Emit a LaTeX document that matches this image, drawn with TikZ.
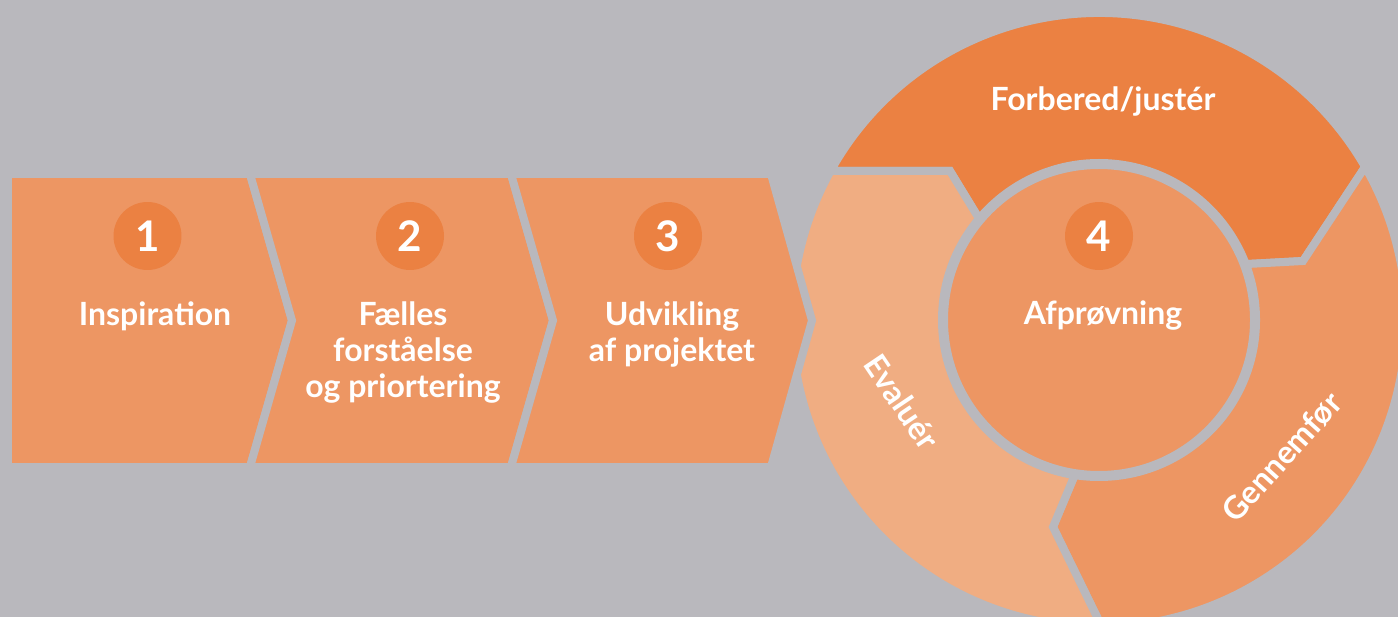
\documentclass[tikz,border=0pt]{standalone}
\usepackage{fontspec}
\setmainfont{Lato}

\definecolor{baggrund}{RGB}{185,184,189}
\definecolor{mellem}{RGB}{237,150,99}
\definecolor{moerk}{RGB}{235,129,66}
\definecolor{lys}{RGB}{240,173,130}

\begin{document}
\begin{tikzpicture}[x=0.02cm, y=0.02cm,
		kant/.style={draw=baggrund, line width=0.16cm, line join=miter},
		tal/.style={circle, fill=moerk, minimum size=1.36cm, inner sep=0pt, text=white, font=\bfseries\fontsize{24}{24}\selectfont},
		tekst/.style={text=white, align=center, font=\bfseries\fontsize{18.2}{20.7}\selectfont}]
		\useasboundingbox (0,0) rectangle (1398,-617);
		\clip (0,0) rectangle (1398,-617);
		\fill[baggrund] (0,0) rectangle (1398,-617);

		% cirklen til trin 4
		\begin{scope}[shift={(1099,-320)}]
			\filldraw[kant, fill=moerk] (0,0) -- (-110,85) -- (-149,149) -- (150.96:307) arc[start angle=150.96, end angle=29.92, radius=307] -- (204,59) -- (130,55) -- cycle;
			\filldraw[kant, fill=mellem] (0,0) -- (130,55) -- (204,59) -- (29.92:307) arc[start angle=29.92, end angle=-89.46, radius=307] -- (-46,-207) -- (-18,-140) -- cycle;
			\filldraw[kant, fill=lys] (0,0) -- (-18,-140) -- (-46,-207) -- (-89.46:307) arc[start angle=270.54, end angle=150.96, radius=307] -- (-149,149) -- (-110,85) -- cycle;
			\filldraw[fill=mellem, draw=baggrund, line width=0.2cm] (0,0) circle[radius=156];
		\end{scope}

		% pilene 1-3
		\filldraw[kant, fill=mellem] (8,-174) -- (250,-174) -- (292,-320.5) -- (250,-467) -- (8,-467) -- cycle;
		\filldraw[kant, fill=mellem] (250,-174) -- (511,-174) -- (553,-320.5) -- (511,-467) -- (250,-467) -- (292,-320.5) -- cycle;
		\filldraw[kant, fill=mellem] (511,-174) -- (771,-174) -- (812,-320.5) -- (771,-467) -- (511,-467) -- (553,-320.5) -- cycle;

		\node[tal] (tal1) at (147.5,-236) {1};
		\node[tal] (tal2) at (410,-236) {2};
		\node[tal] (tal3) at (668,-236) {3};
		\node[tal] (tal4) at (1099,-236) {4};

		\node[tekst, anchor=base] (inspiration) at (155,-326) {Inspiration};
		\node[tekst, anchor=base] (faelles) at (403,-398) {Fælles\\forståelse\\og priortering};
		\node[tekst, anchor=base] (udvikling) at (672,-362) {Udvikling\\af projektet};
		\node[tekst, anchor=base] (afproevning) at (1103,-325) {Afprøvning};
		\node[tekst, anchor=base] (forbered) at (1103,-111) {Forbered/justér};
		\node[tekst, rotate=-56] (evaluer) at (902,-402) {Evaluér};
		\node[tekst, rotate=48] (gennemfoer) at (1282,-457) {Gennemfør};
	\end{tikzpicture}
\end{document}
